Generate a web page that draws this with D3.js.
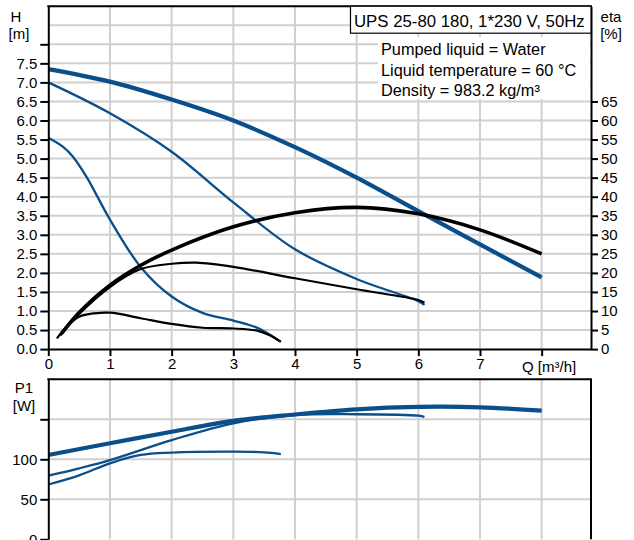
<!DOCTYPE html>
<html>
<head>
<meta charset="utf-8">
<script src="https://cdn.jsdelivr.net/npm/d3@7"></script>
<style>
  body { margin: 0; background: #fff; }
  svg { display: block; font-family: "Liberation Sans", Arial, sans-serif; }
</style>
</head>
<body>
<svg></svg>
<script>
// Dimension constants
const WIDTH = 634;
const HEIGHT = 540;

// Head curves [m]
const hFlowMax = [0, 1, 2, 3, 4, 5, 6, 7, 8];
const hMax = [7.35, 7.02, 6.55, 6.0, 5.3, 4.5, 3.62, 2.75, 1.88];
const hFlowMid = [0, 1, 2, 3, 4, 5, 6, 6.1];
const hMid = [7.0, 6.19, 5.18, 3.85, 2.62, 1.84, 1.26, 1.16];
const hFlowMin = [0, 0.24, 0.4, 0.62, 1, 1.5, 2, 2.5, 3, 3.4, 3.77];
const hMin = [5.55, 5.31, 5.05, 4.52, 3.4, 2.15, 1.38, 0.95, 0.75, 0.55, 0.19];

// Efficiency curves [%]
const etaFlowMax = [0.22, 0.5, 1, 1.5, 2, 3, 4, 5, 6, 7, 8];
const etaMax = [4.2, 9.6, 16.8, 22, 26, 32.1, 35.8, 37.2, 35.5, 31.3, 25];
const etaFlowMid = [0.2, 0.5, 1, 1.5, 2, 2.4, 3, 4, 5, 6, 6.1];
const etaMid = [3.6, 9.2, 16.3, 21.0, 22.4, 22.7, 21.6, 18.6, 15.7, 12.9, 12.2];
const etaFlowMin = [0.14, 0.3, 0.5, 0.75, 1, 1.5, 2, 2.5, 3, 3.4, 3.58, 3.77];
const etaMin = [2.8, 5.9, 8.5, 9.4, 9.55, 8.1, 6.6, 5.6, 5.4, 4.8, 3.7, 1.95];

// Power curves [W]
const pFlowMax = [0, 1, 2, 3, 4, 5, 6, 7, 8];
const pMax = [105.4, 120, 134.5, 148, 156, 162.5, 165.5, 165, 160.8];
const pFlowMid = [0, 0.5, 1, 2, 3, 4, 5, 6, 6.1];
const pMid = [79.5, 88.7, 99, 124, 145, 155.4, 156.3, 154.5, 153];
const pFlowMin = [0, 0.5, 1, 1.5, 2, 3, 3.5, 3.77];
const pMin = [68.5, 80, 95, 105.4, 108.3, 109.5, 108.7, 106.6];

// Tick labels
const hTicks = d3.range(0, 8.01, 0.5);
const etaTicks = d3.range(0, 66, 5);
const qTicks = d3.range(0, 9);
const pTicks = [0, 50, 100, 150];

const title = 'UPS 25-80 180, 1*230 V, 50Hz';
const infoLines = ['Pumped liquid = Water', 'Liquid temperature = 60 °C', 'Density = 983.2 kg/m³'];

// colors
const BLUE = '#0a4f8c';
const GRID = '#d0d0d0';

const svg = d3.select('svg')
    .attr('width', WIDTH)
    .attr('height', HEIGHT);

// scales
const x = d3.scaleLinear().domain([0, 8.8]).range([48.3, 591]);
const yH = d3.scaleLinear().domain([0, 9]).range([349.1, 6.2]);
const yEta = d3.scaleLinear().domain([0, 90]).range([349.1, 6.2]);
const yP = d3.scaleLinear().domain([0, 200]).range([539.3, 379.3]);

// grid
const grid = svg.append('g').attr('stroke', GRID).attr('stroke-width', 2);
grid.selectAll('.vtop').data(qTicks.slice(1)).enter().append('line')
    .attr('x1', d => x(d)).attr('x2', d => x(d))
    .attr('y1', yH(9)).attr('y2', yH(0));
grid.selectAll('.htop').data(d3.range(0.5, 8.51, 0.5)).enter().append('line')
    .attr('x1', x(0)).attr('x2', x(8.8))
    .attr('y1', d => yH(d)).attr('y2', d => yH(d));
grid.selectAll('.vbot').data(qTicks.slice(1)).enter().append('line')
    .attr('x1', d => x(d)).attr('x2', d => x(d))
    .attr('y1', yP(200)).attr('y2', yP(0));
grid.selectAll('.hbot').data([50, 100, 150]).enter().append('line')
    .attr('x1', x(0)).attr('x2', x(8.8))
    .attr('y1', d => yP(d)).attr('y2', d => yP(d));

// info text background
svg.append('rect')
    .attr('x', 378).attr('y', 37)
    .attr('width', 212).attr('height', 62)
    .attr('fill', '#fff');

// curves
function drawCurve(xs, ys, yScale, color, width) {
    const line = d3.line()
        .x(d => x(d[0]))
        .y(d => yScale(d[1]))
        .curve(d3.curveCatmullRom.alpha(0.5));
    svg.append('path')
        .datum(xs.map((q, i) => [q, ys[i]]))
        .attr('d', line)
        .attr('fill', 'none')
        .attr('stroke', color)
        .attr('stroke-width', width)
        .attr('stroke-linecap', 'butt');
}

drawCurve(hFlowMin, hMin, yH, BLUE, 2.3);
drawCurve(hFlowMid, hMid, yH, BLUE, 2.3);
drawCurve(hFlowMax, hMax, yH, BLUE, 4.2);
drawCurve(etaFlowMin, etaMin, yEta, '#000', 2.2);
drawCurve(etaFlowMid, etaMid, yEta, '#000', 2.2);
drawCurve(etaFlowMax, etaMax, yEta, '#000', 3.6);
drawCurve(pFlowMin, pMin, yP, BLUE, 2.3);
drawCurve(pFlowMid, pMid, yP, BLUE, 2.3);
drawCurve(pFlowMax, pMax, yP, BLUE, 4.2);

// axes
function styleAxis(g) {
    g.selectAll('path, line').attr('stroke', '#000').attr('stroke-width', 2);
    g.selectAll('text').attr('font-size', 15).attr('fill', '#000')
        .attr('font-family', '"Liberation Sans", Arial, sans-serif');
}

svg.append('g')
    .attr('transform', `translate(${x(0)},0)`)
    .call(d3.axisLeft(yH).tickValues(hTicks).tickSize(8).tickSizeOuter(0).tickPadding(3)
        .tickFormat(d => d <= 7.5 ? d.toFixed(1) : ''))
    .call(styleAxis);

svg.append('g')
    .attr('transform', `translate(${x(8.8)},0)`)
    .call(d3.axisRight(yEta).tickValues(etaTicks).tickSize(7).tickSizeOuter(0).tickPadding(3))
    .call(styleAxis);

svg.append('g')
    .attr('transform', `translate(0,${yH(0)})`)
    .call(d3.axisBottom(x).tickValues(qTicks).tickSize(7).tickSizeOuter(0).tickPadding(2)
        .tickFormat(d => d < 8 ? d : ''))
    .call(styleAxis);

svg.append('g')
    .attr('transform', `translate(${x(0)},0)`)
    .call(d3.axisLeft(yP).tickValues(pTicks).tickSize(8).tickSizeOuter(0).tickPadding(3)
        .tickFormat(d => d < 150 ? d : ''))
    .call(styleAxis);

// frame lines
const frame = svg.append('g').attr('stroke', '#000').attr('stroke-width', 2);
frame.append('line').attr('x1', x(0) - 1).attr('x2', x(8.8) + 1).attr('y1', yH(9)).attr('y2', yH(9));
frame.append('line').attr('x1', x(0) - 1).attr('x2', x(8.8) + 1).attr('y1', yP(200)).attr('y2', yP(200));
frame.append('line').attr('x1', x(8.8)).attr('x2', x(8.8)).attr('y1', yP(200)).attr('y2', yP(0));

// title box
svg.append('rect')
    .attr('x', 350.5).attr('y', yH(9))
    .attr('width', x(8.8) - 350.5).attr('height', 27)
    .attr('fill', '#fff').attr('stroke', '#000').attr('stroke-width', 1.2);
svg.append('text')
    .attr('x', 354).attr('y', 26.5)
    .attr('font-size', 16.8)
    .text(title);

svg.selectAll('.info').data(infoLines).enter().append('text')
    .attr('x', 381)
    .attr('y', (d, i) => 55 + i * 20.5)
    .attr('font-size', 16.3)
    .text(d => d);

// axis titles
const labels = [
    {t: 'H', x: 16, y: 22}, {t: '[m]', x: 19, y: 39},
    {t: 'eta', x: 611, y: 22}, {t: '[%]', x: 611, y: 39},
    {t: 'P1', x: 24, y: 393}, {t: '[W]', x: 24, y: 411}
];
svg.selectAll('.lbl').data(labels).enter().append('text')
    .attr('x', d => d.x).attr('y', d => d.y)
    .attr('text-anchor', 'middle')
    .attr('font-size', 15)
    .text(d => d.t);

svg.append('text')
    .attr('x', 522).attr('y', 372)
    .attr('font-size', 15)
    .text('Q [m³/h]');
</script>
</body>
</html>
